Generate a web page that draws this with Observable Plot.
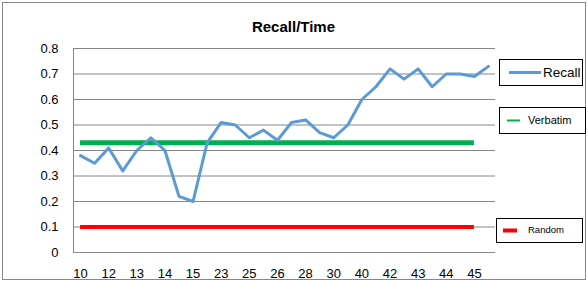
<!DOCTYPE html>
<html>
<head>
<meta charset="utf-8">
<script src="https://cdn.jsdelivr.net/npm/d3@7"></script>
<script src="https://cdn.jsdelivr.net/npm/@observablehq/plot@0.6"></script>
<style>
  body { margin: 0; background: #fff; }
  #chart { position: relative; width: 587px; height: 281px; font-family: "Liberation Sans", Arial, sans-serif; }
  #frame { position: absolute; left: 2px; top: 2px; width: 582px; height: 276px; border: 1px solid #888; }
  #title { position: absolute; left: 0; width: 587px; top: 18px; text-align: center; font-weight: bold; font-size: 15px; color: #000; }
  #chart svg.plot { position: absolute; left: 0; top: 0; }
  .lg { position: absolute; border: 1px solid #000; background: #fff; box-sizing: border-box; }
  .lg svg { position: absolute; left: 0; top: 0; }
  .lg span { position: absolute; color: #000; white-space: nowrap; }
</style>
</head>
<body>
<div id="chart">
  <div id="frame"></div>
  <div id="title">Recall/Time</div>
</div>
<script>
// ---- data ----
const xLabels = ["10","12","13","14","15","23","25","26","28","30","40","42","43","44","45"];
const recall = [0.38,0.35,0.41,0.32,0.40,0.45,0.40,0.22,0.20,0.43,0.51,0.50,0.45,0.48,0.44,
                0.51,0.52,0.47,0.45,0.50,0.60,0.65,0.72,0.68,0.72,0.65,0.70,0.70,0.69,0.73];
const verbatimValue = 0.43;
const randomValue = 0.1;
const refSpan = [0, 28]; // category indices covered by the reference series
const yTicks = [0,0.1,0.2,0.3,0.4,0.5,0.6,0.7,0.8];
const seriesNames = ["Recall","Verbatim","Random"];
const seriesColors = ["#5B9BD5","#00B050","#FF0000"];

const n = recall.length;
const data = recall.map((v, i) => ({i, v}));

const plot = Plot.plot({
  width: 587,
  height: 281,
  marginLeft: 73,
  marginRight: 92,
  marginTop: 48,
  marginBottom: 29,
  style: {background: "transparent", fontFamily: "'Liberation Sans', Arial, sans-serif", fontSize: "13px", color: "#000"},
  x: {domain: [-0.5, n - 0.5], ticks: d3.range(0, n, 2), tickFormat: i => xLabels[i / 2], tickSize: 0, tickPadding: 16, label: null},
  y: {domain: [0, 0.8], ticks: yTicks, tickFormat: d => d === 0 ? "0" : d3.format(".1f")(d), tickSize: 0, tickPadding: 15, label: null},
  marks: [
    Plot.gridY(yTicks, {stroke: "#868686", strokeOpacity: 1, strokeWidth: 1}),
    Plot.ruleX([-0.5], {y1: 0, y2: 0.8, stroke: "#868686", strokeWidth: 1}),
    Plot.axisX({ticks: d3.range(0, n, 2), tickFormat: i => xLabels[i / 2], tickSize: 0, tickPadding: 16, fontSize: 13}),
    Plot.axisY({ticks: yTicks, tickFormat: d => d === 0 ? "0" : d3.format(".1f")(d), tickSize: 0, tickPadding: 15, fontSize: 13}),
    Plot.ruleY([verbatimValue], {x1: refSpan[0], x2: refSpan[1], stroke: seriesColors[1], strokeWidth: 5}),
    Plot.ruleY([randomValue], {x1: refSpan[0], x2: refSpan[1], stroke: seriesColors[2], strokeWidth: 4}),
    Plot.lineY(data, {x: "i", y: "v", stroke: seriesColors[0], strokeWidth: 3, strokeLinejoin: "round"})
  ]
});
plot.classList.add("plot");
document.getElementById("chart").appendChild(plot);

// ---- legend boxes ----
const legends = [
  {name: seriesNames[0], color: seriesColors[0], box: [499, 59, 84, 27], line: [9, 41, 3], text: [43, 13.5], font: 13.5},
  {name: seriesNames[1], color: seriesColors[1], box: [499, 107, 87, 27], line: [7, 20, 2], text: [28, 11], font: 11},
  {name: seriesNames[2], color: seriesColors[2], box: [496, 218, 87, 25], line: [6, 20, 4], text: [31, 9.5], font: 9.5}
];
const chart = document.getElementById("chart");
for (const lg of legends) {
  const div = document.createElement("div");
  div.className = "lg";
  const [x, y, w, h] = lg.box;
  Object.assign(div.style, {left: x + "px", top: y + "px", width: w + "px", height: h + "px"});
  const midY = (h - 2) / 2;
  div.innerHTML = `<svg width="${w}" height="${h}"><line x1="${lg.line[0]}" x2="${lg.line[1]}" y1="${midY}" y2="${midY}" stroke="${lg.color}" stroke-width="${lg.line[2]}"/></svg>` +
    `<span style="left:${lg.text[0]}px; top:${midY - lg.font * 0.58}px; font-size:${lg.font}px; line-height:1.15">${lg.name}</span>`;
  chart.appendChild(div);
}
</script>
</body>
</html>
